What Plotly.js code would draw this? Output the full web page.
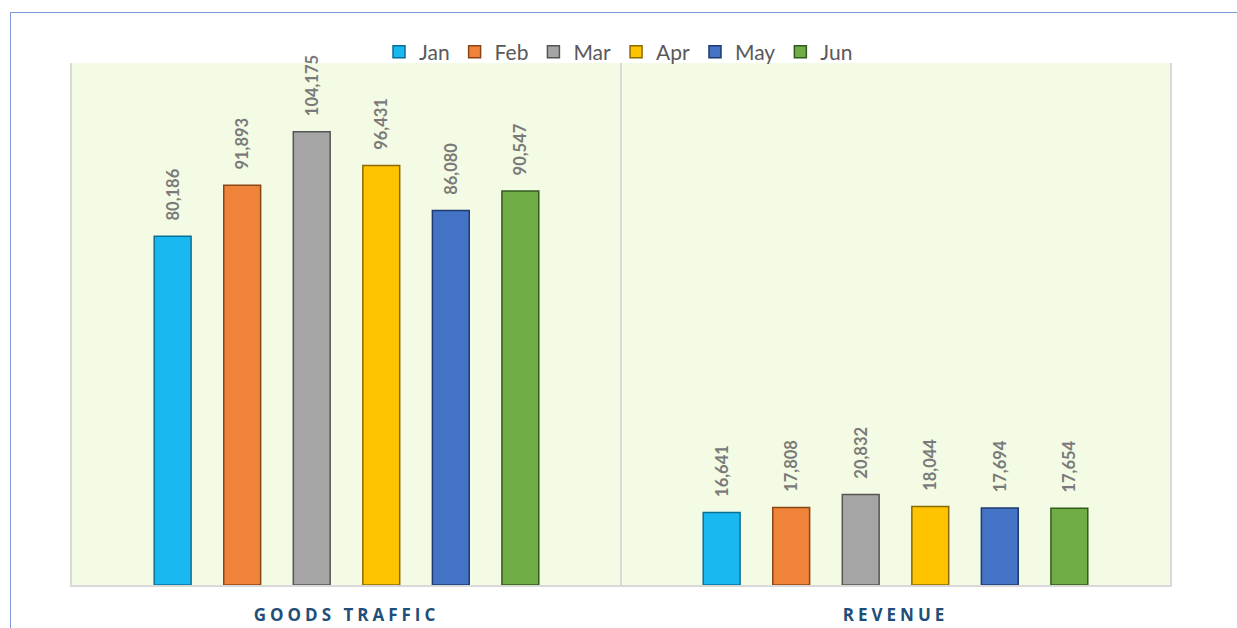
<!DOCTYPE html>
<html>
<head>
<meta charset="utf-8">
<script src="https://cdn.plot.ly/plotly-3.0.1.min.js"></script>
<style>
  body { margin: 0; background: #ffffff; }
  #frame { position: absolute; left: 10px; top: 12px; width: 1240px; height: 620px;
           border-left: 1.5px solid #7d9bd8; border-top: 1.5px solid #7d9bd8; }
  #chart { position: absolute; left: 0; top: 0; width: 1237px; height: 628px; }
  #chart .xtick text { letter-spacing: 4px; }
</style>
</head>
<body>
<div id="frame"></div>
<div id="chart"></div>
<script>
var categories = ["GOODS TRAFFIC", "REVENUE"];
var months = ["Jan", "Feb", "Mar", "Apr", "May", "Jun"];
var janValues = [80186, 16641];
var febValues = [91893, 17808];
var marValues = [104175, 20832];
var aprValues = [96431, 18044];
var mayValues = [86080, 17694];
var junValues = [90547, 17654];

var fills = ["#19b8f0", "#f0833a", "#a5a5a5", "#ffc300", "#4472c4", "#70ad47"];
var edges = ["#0a6f96", "#8a4514", "#555555", "#8a6a00", "#1f3a70", "#355a1f"];

var series = [janValues, febValues, marValues, aprValues, mayValues, junValues];

// one trace per month, grouped over the two categories
var data = series.map(function(vals, i) {
  return {
    type: "bar",
    name: months[i],
    x: categories,
    y: vals,
    marker: {color: fills[i], line: {color: edges[i], width: 1.5}},
    texttemplate: "\u00a0\u00a0\u00a0<b>%{y:,}</b>",
    textposition: "outside",
    textangle: -90,
    constraintext: "none",
    cliponaxis: false,
    textfont: {family: "Lato, 'Open Sans', sans-serif", size: 16.5, color: "#7a7a7a"},
    hoverinfo: "name+y"
  };
});

var layout = {
  width: 1237,
  height: 628,
  margin: {l: 72, r: 67, t: 63, b: 43, autoexpand: false},
  paper_bgcolor: "rgba(0,0,0,0)",
  plot_bgcolor: "#f4fbe4",
  barmode: "group",
  bargap: 0.24,
  bargroupgap: 0.47,
  showlegend: true,
  legend: {
    orientation: "h",
    xref: "container", x: 0.5, xanchor: "center",
    yref: "container", y: 0.917, yanchor: "middle",
    font: {family: "Lato, 'Open Sans', sans-serif", size: 21, color: "#595959"},
    bgcolor: "rgba(0,0,0,0)"
  },
  xaxis: {
    automargin: false,
    showline: true, linecolor: "#d9d9d9", linewidth: 2,
    ticks: "", ticklabelstandoff: 14,
    tickfont: {family: "'Open Sans', Lato, sans-serif", size: 17, color: "#1f4e79", weight: "bold"},
    fixedrange: true
  },
  yaxis: {
    automargin: false,
    range: [0, 120000],
    showline: true, mirror: true, linecolor: "#d9d9d9", linewidth: 2,
    showgrid: false, zeroline: false, showticklabels: false, ticks: "",
    fixedrange: true
  },
  shapes: [
    {type: "line", xref: "x", yref: "paper", x0: 0.5, x1: 0.5, y0: 0, y1: 1,
     line: {color: "#d9d9d9", width: 2}}
  ]
};

Plotly.newPlot("chart", data, layout, {displayModeBar: false, staticPlot: true});
</script>
</body>
</html>
